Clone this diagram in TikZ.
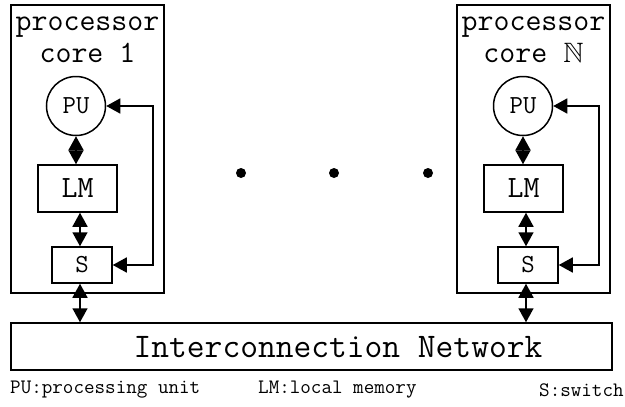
\documentclass[tikz,border=0pt]{standalone}
\usepackage{amssymb}
\usetikzlibrary{arrows.meta}
\usetikzlibrary{positioning}

\tikzset{
	unitbox/.style={draw, line width=1.5pt, inner sep=0pt},
	bothways/.style={line width=1.5pt, {Triangle[length=14pt,width=15pt]}-{Triangle[length=14pt,width=15pt]}},
	big/.style={font=\ttfamily\fontsize{31}{32}\selectfont},
	mid/.style={font=\ttfamily\fontsize{26}{28}\selectfont},
	small/.style={font=\ttfamily\fontsize{20.5}{22}\selectfont},
}

\begin{document}
\begin{tikzpicture}[x=1pt,y=-1pt]
	\useasboundingbox (0,0) rectangle (625,407);
	% core 1
	\node[unitbox, minimum width=153, minimum height=288] (core1) at (87.5,149) {};
	\node[big, align=center] (title1) at (87.5,40) {processor\\core 1};
	\node[unitbox, circle, minimum size=59, mid] (pu1) at (76,106) {PU};
	\node[unitbox, minimum width=79, minimum height=47, big] (lm1) at (77.5,188.5) {LM};
	\node[unitbox, minimum width=60, minimum height=36, mid] (s1) at (82,265) {S};
	\draw[bothways] (pu1.south) -- (pu1.south |- lm1.north);
	\draw[bothways] (lm1.south -| 80,0) -- (80,0 |- s1.north);
	\draw[bothways] (s1.east) -- ++(40,0) |- (pu1.east);
	% core N
	\node[unitbox, minimum width=153, minimum height=288] (coreN) at (533.5,149) {};
	\node[big, align=center] (titleN) at (533.5,40) {processor\\core {\fontsize{28}{32}\selectfont$\mathbb{N}$}};
	\node[unitbox, circle, minimum size=59, mid] (puN) at (523,106) {PU};
	\node[unitbox, minimum width=79, minimum height=47, big] (lmN) at (523.5,188.5) {LM};
	\node[unitbox, minimum width=60, minimum height=36, mid] (sN) at (528,265) {S};
	\draw[bothways] (puN.south) -- (puN.south |- lmN.north);
	\draw[bothways] (lmN.south -| 526,0) -- (526,0 |- sN.north);
	\draw[bothways] (sN.east) -- ++(40,0) |- (puN.east);
	% dots
	\foreach \x in {241,334,428}
		\fill (\x,173) circle[radius=5pt];
	% network
	\node[unitbox, minimum width=601, minimum height=47] (net) at (311.5,346.5) {};
	\node[font=\ttfamily\fontsize{34.5}{36}\selectfont] (netlabel) at (338,347) {Interconnection Network};
	\draw[bothways] (s1.south -| 80,0) -- (80,0 |- net.north);
	\draw[bothways] (sN.south -| 526,0) -- (526,0 |- net.north);
	% legend
	\node[small, anchor=west, inner sep=0pt] (leg1) at (10,390) {PU:processing unit};
	\node[small, anchor=west, inner sep=0pt] (leg2) at (258,390) {LM:local memory};
	\node[small, anchor=west, inner sep=0pt] (leg3) at (539,390) {S:switch};
\end{tikzpicture}
\end{document}
